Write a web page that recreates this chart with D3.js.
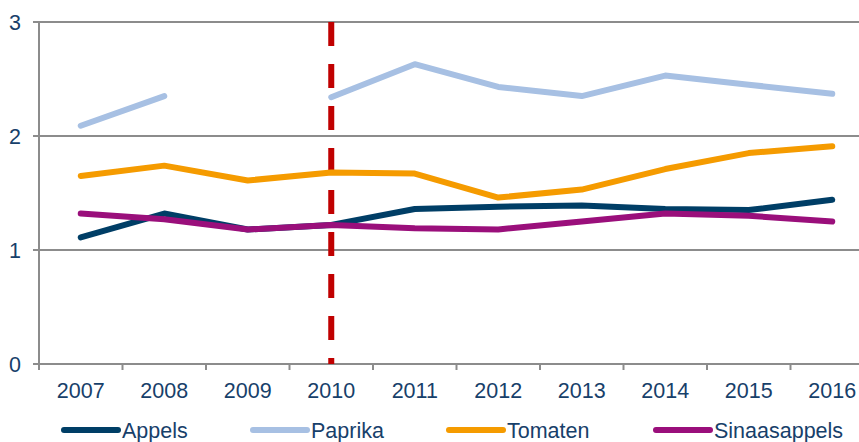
<!DOCTYPE html>
<html>
<head>
    <meta charset="utf-8">
    <title>Prijsontwikkeling</title>
    <script src="https://cdn.jsdelivr.net/npm/d3@7"></script>
    <style>
        body { margin: 0; background: #fff; }
        svg { display: block; font-family: "Liberation Sans", Arial, sans-serif; }
        .lbl { fill: #17406a; font-size: 21.5px; }
    </style>
</head>
<body>
    <div id="chart"></div>
    <script>
        // data
        var years = ["2007", "2008", "2009", "2010", "2011", "2012", "2013", "2014", "2015", "2016"];
        var appels = [1.11, 1.32, 1.18, 1.22, 1.36, 1.38, 1.39, 1.36, 1.35, 1.44];
        var paprika = [2.09, 2.35, null, 2.34, 2.63, 2.43, 2.35, 2.53, 2.45, 2.37];
        var tomaten = [1.65, 1.74, 1.61, 1.68, 1.67, 1.46, 1.53, 1.71, 1.85, 1.91];
        var sinaasappels = [1.32, 1.27, 1.18, 1.22, 1.19, 1.18, 1.25, 1.32, 1.30, 1.25];
        var yTicks = [0, 1, 2, 3];
        var markerYear = "2010";

        var series = [
            { name: "Appels", values: appels, color: "#003e66" },
            { name: "Paprika", values: paprika, color: "#a7c0e3" },
            { name: "Tomaten", values: tomaten, color: "#f59b00" },
            { name: "Sinaasappels", values: sinaasappels, color: "#9a0f7b" }
        ];

        var width = 859, height = 442;
        var plotLeft = 39, plotTop = 22, plotBottom = 364;
        var bandW = 83.5;

        var svg = d3.select("#chart").append("svg")
            .attr("width", width)
            .attr("height", height);

        var x = d3.scaleBand()
            .domain(years)
            .range([plotLeft, plotLeft + bandW * years.length])
            .padding(0);

        var y = d3.scaleLinear()
            .domain([0, 3])
            .range([plotBottom, plotTop]);

        // gridlines
        svg.append("g")
            .selectAll("line")
            .data(yTicks)
            .enter().append("line")
            .attr("x1", plotLeft - 6)
            .attr("x2", width)
            .attr("y1", d => y(d))
            .attr("y2", d => y(d))
            .attr("stroke", "#8c8c8c")
            .attr("stroke-width", 2);

        // y axis line
        svg.append("line")
            .attr("x1", plotLeft).attr("x2", plotLeft)
            .attr("y1", y(3)).attr("y2", plotBottom + 6)
            .attr("stroke", "#8c8c8c")
            .attr("stroke-width", 2);

        // x ticks on band edges
        svg.append("g")
            .selectAll("line")
            .data(years.slice(1))
            .enter().append("line")
            .attr("x1", d => x(d))
            .attr("x2", d => x(d))
            .attr("y1", plotBottom)
            .attr("y2", plotBottom + 6)
            .attr("stroke", "#8c8c8c")
            .attr("stroke-width", 2);

        // y labels
        svg.append("g")
            .selectAll("text")
            .data(yTicks)
            .enter().append("text")
            .attr("class", "lbl")
            .attr("x", 21)
            .attr("y", d => y(d) + 8)
            .attr("text-anchor", "end")
            .text(d => d);

        // x labels
        svg.append("g")
            .selectAll("text")
            .data(years)
            .enter().append("text")
            .attr("class", "lbl")
            .attr("x", d => x(d) + x.bandwidth() / 2)
            .attr("y", 398)
            .attr("text-anchor", "middle")
            .text(d => d);

        // red dashed marker
        svg.append("line")
            .attr("x1", x(markerYear) + x.bandwidth() / 2)
            .attr("x2", x(markerYear) + x.bandwidth() / 2)
            .attr("y1", y(3))
            .attr("y2", plotBottom)
            .attr("stroke", "#c00000")
            .attr("stroke-width", 6)
            .attr("stroke-dasharray", "24,18");

        var line = d3.line()
            .defined(d => d[1] !== null)
            .x(d => x(d[0]) + x.bandwidth() / 2)
            .y(d => y(d[1]));

        svg.append("g")
            .selectAll("path")
            .data(series)
            .enter().append("path")
            .attr("d", s => line(years.map((yr, i) => [yr, s.values[i]])))
            .attr("fill", "none")
            .attr("stroke", s => s.color)
            .attr("stroke-width", 6)
            .attr("stroke-linecap", "round")
            .attr("stroke-linejoin", "round");

        // legend
        var legendX = [64, 253, 449, 656];
        var lg = svg.append("g")
            .selectAll("g")
            .data(series)
            .enter().append("g")
            .attr("transform", (d, i) => "translate(" + legendX[i] + ",430)");

        lg.append("line")
            .attr("x1", 0).attr("x2", 54)
            .attr("y1", 0).attr("y2", 0)
            .attr("stroke", d => d.color)
            .attr("stroke-width", 6)
            .attr("stroke-linecap", "round");

        lg.append("text")
            .attr("class", "lbl")
            .attr("x", 58)
            .attr("y", 8)
            .text(d => d.name);
    </script>
</body>
</html>
